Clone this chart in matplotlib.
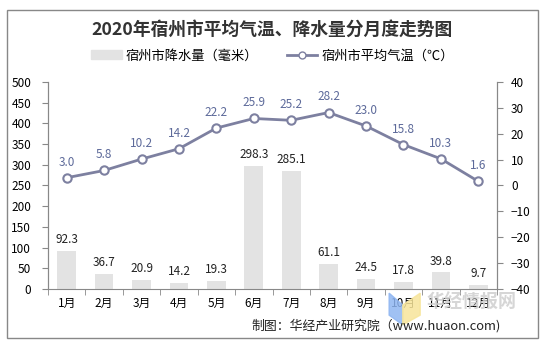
import matplotlib.pyplot as plt
from matplotlib.patches import Rectangle, Polygon
from matplotlib.lines import Line2D

plt.rcParams['font.family'] = ['Noto Sans CJK SC', 'DejaVu Sans']

months = ['1月', '2月', '3月', '4月', '5月', '6月', '7月', '8月', '9月', '10月', '11月', '12月']
rain = [92.3, 36.7, 20.9, 14.2, 19.3, 298.3, 285.1, 61.1, 24.5, 17.8, 39.8, 9.7]
temp = [3.0, 5.8, 10.2, 14.2, 22.2, 25.9, 25.2, 28.2, 23.0, 15.8, 10.3, 1.6]

bar_color = '#e3e3e3'
line_color = '#7d80a0'
label_blue = '#5d6a9a'
axis_gray = '#888888'

fig = plt.figure(figsize=(5.45, 3.49), dpi=100)
ax = fig.add_axes([0.088, 0.172, 0.824, 0.593])
ax2 = ax.twinx()

x = list(range(len(months)))
ax.bar(x, rain, width=0.5, color=bar_color, zorder=2)
for i, v in enumerate(rain):
    ax.text(i, v + 12, f'{v:.1f}', ha='center', va='bottom', fontsize=8.5, color='#222222')

ax2.plot(x, temp, color=line_color, lw=2, marker='o', markersize=6,
         markerfacecolor='white', markeredgecolor=line_color, markeredgewidth=1.5, zorder=3)
for i, v in enumerate(temp):
    ax2.text(i, v + 3.5, f'{v:.1f}', ha='center', va='bottom', fontsize=8.5, color=label_blue)

ax.set_xlim(-0.5, 11.5)
ax.set_ylim(0, 500)
ax.set_yticks(range(0, 501, 50))
ax2.set_ylim(-40, 40)
ax2.set_yticks(range(-40, 41, 10))

ax.set_xticks(x)
ax.set_xticklabels(months, fontsize=8.5)
ax.set_xticks([i + 0.5 for i in range(-1, 12)], minor=True)
ax.tick_params(axis='x', which='major', length=0, pad=6)
ax.tick_params(axis='x', which='minor', length=4, color=axis_gray)
ax.tick_params(axis='y', length=4, color=axis_gray, labelsize=8.5, pad=8)
ax2.tick_params(axis='y', length=4, color=axis_gray, labelsize=8.5, pad=6)

for a in (ax, ax2):
    a.spines['top'].set_visible(False)
    for s in ('left', 'right', 'bottom'):
        a.spines[s].set_color(axis_gray)
ax2.spines['bottom'].set_visible(False)

# title and legend
fig.text(0.5, 0.915, '2020年宿州市平均气温、降水量分月度走势图', ha='center', va='center',
         fontsize=12.8, fontweight='bold', color='#333333')
handles = [
    Rectangle((0, 0), 1, 1, color=bar_color),
    Line2D([], [], color=line_color, lw=2, marker='o', markersize=5,
           markerfacecolor='white', markeredgecolor=line_color),
]
fig.legend(handles, ['宿州市降水量（毫米）', '宿州市平均气温（℃）'], loc='center',
           bbox_to_anchor=(0.5, 0.84), ncol=2, frameon=False, fontsize=9.5,
           handlelength=2.3, columnspacing=2.2, handletextpad=0.3)

# watermark logo + name
fig.patches.append(Polygon([[0.714, 0.160], [0.739, 0.126], [0.739, 0.069], [0.714, 0.097]],
                           closed=True, transform=fig.transFigure, color='#8fb6f2', alpha=0.85))
fig.patches.append(Polygon([[0.739, 0.126], [0.771, 0.160], [0.771, 0.097], [0.739, 0.069]],
                           closed=True, transform=fig.transFigure, color='#f7e59a', alpha=0.85))
fig.text(0.783, 0.134, '华经情报网', fontsize=13, fontweight='bold', color='#cfcfcf',
         va='center', ha='left', alpha=0.85)

fig.text(0.918, 0.068, '制图：华经产业研究院（www.huaon.com)', ha='right', va='center',
         fontsize=9.3, color='#222222')

# outer frame
fig.patches.append(Rectangle((0.013, 0.031), 0.974, 0.94, transform=fig.transFigure,
                             fill=False, edgecolor='#888888', lw=1))

fig.savefig('out.png', dpi=100)
